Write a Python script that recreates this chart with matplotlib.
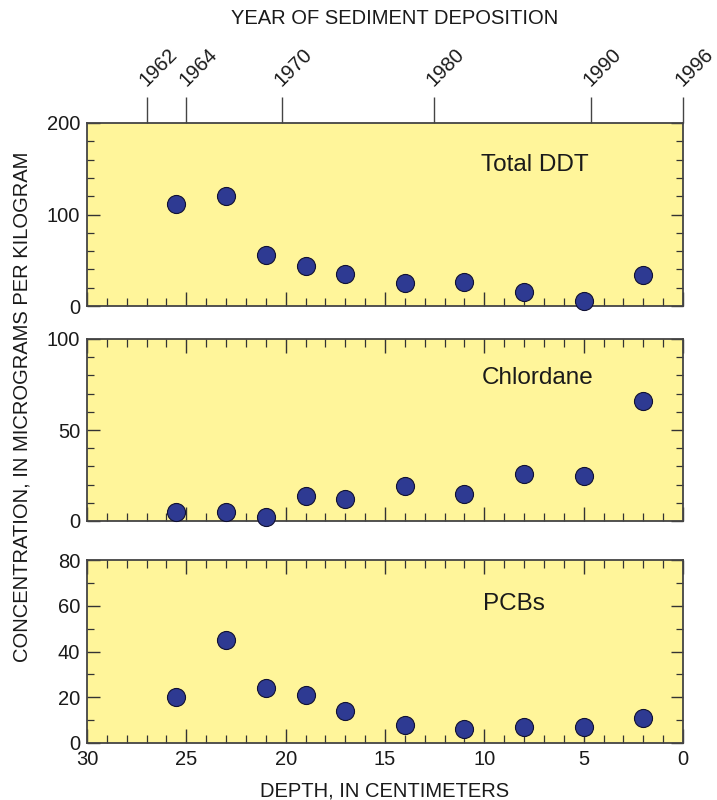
import matplotlib
matplotlib.use("Agg")
import matplotlib.pyplot as plt
from matplotlib.ticker import MultipleLocator, NullLocator

plt.rcParams['font.family'] = ['Liberation Sans', 'DejaVu Sans']

depth = [25.5, 23, 21, 19, 17, 14, 11, 8, 5, 2]
ddt = [112, 120, 56, 44, 35, 25, 26, 15, 6, 34]
chlordane = [5, 5, 2, 14, 12, 19, 15, 26, 25, 66]
pcbs = [20, 45, 24, 21, 14, 8, 6, 7, 7, 11]

year_labels = ["1962", "1964", "1970", "1980", "1990", "1996"]
year_depths = [27, 25, 20.2, 12.55, 4.65, 0]

panels = [
    ("Total DDT", ddt, 200, 100, 20),
    ("Chlordane", chlordane, 100, 50, 10),
    ("PCBs", pcbs, 80, 20, 10),
]

bg = "#FFF59A"
mcol = "#2E3A92"
spine_col = "#444444"
txt = "#1a1a1a"

fig = plt.figure(figsize=(7.17, 8.0), dpi=100)
rects = [
    (87/717, 1-306/800, 596/717, 183/800),
    (87/717, 1-521/800, 596/717, 182/800),
    (87/717, 1-743/800, 596/717, 183/800),
]
label_pos = [(535, 165), (538, 378), (514, 604)]

axes = []
for (name, vals, ymax, ymaj, ymin), r, lp in zip(panels, rects, label_pos):
    ax = fig.add_axes(r)
    ax.set_facecolor(bg)
    ax.scatter(depth, vals, s=13**2, color=mcol, edgecolor="#111133",
               linewidth=0.8, zorder=3, clip_on=False)
    ax.set_xlim(30, 0)
    ax.set_ylim(0, ymax)
    ax.xaxis.set_major_locator(MultipleLocator(5))
    ax.xaxis.set_minor_locator(MultipleLocator(1))
    ax.yaxis.set_major_locator(MultipleLocator(ymaj))
    ax.yaxis.set_minor_locator(MultipleLocator(ymin))
    ax.tick_params(which="both", direction="in", top=True, right=True,
                   colors="#333333", labelcolor=txt, labelsize=14.5)
    ax.tick_params(which="major", axis="x", length=10, width=1)
    ax.tick_params(which="minor", axis="x", length=6, width=0.9)
    ax.tick_params(which="major", axis="y", length=9, width=1)
    ax.tick_params(which="minor", axis="y", length=5, width=0.9)
    ax.tick_params(axis="y", pad=5)
    for s in ax.spines.values():
        s.set_color(spine_col)
        s.set_linewidth(1.3)
    fig.text(lp[0]/717, 1-lp[1]/800, name, fontsize=17.5, color=txt,
             ha="center", va="center")
    axes.append(ax)

for ax in axes[:2]:
    ax.tick_params(axis="x", labelbottom=False)

axes[2].set_xticks([30, 25, 20, 15, 10, 5, 0])
axes[2].set_xticklabels(["30", "25", "20", "15", "10", "5", "0"])
axes[2].tick_params(axis="x", pad=5)
axes[2].set_xlabel("DEPTH, IN CENTIMETERS", fontsize=14.5, color=txt,
                   labelpad=9)

# Year axis on top
top = axes[0].twiny()
top.set_xlim(30, 0)
top.set_xticks(year_depths)
top.set_xticklabels(year_labels, rotation=45, ha="left", va="baseline",
                    rotation_mode="anchor", fontsize=14.5, color=txt)
top.xaxis.set_minor_locator(NullLocator())
top.tick_params(axis="x", direction="out", length=19, width=1, colors="#444444",
                labelcolor=txt, pad=7)
for s in top.spines.values():
    s.set_visible(False)

fig.text(395/717, 1-18/800, "YEAR OF SEDIMENT DEPOSITION", fontsize=14.5,
         color=txt, ha="center", va="center")
fig.text(22/717, 1-407/800, "CONCENTRATION, IN MICROGRAMS PER KILOGRAM",
         fontsize=14.5, color=txt, ha="center", va="center", rotation=90)

fig.savefig("out.png", dpi=100)
